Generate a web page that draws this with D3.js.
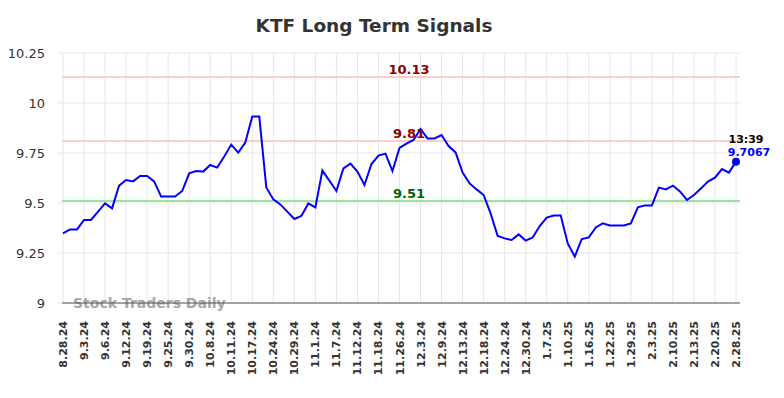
<!DOCTYPE html>
<html>
<head>
<meta charset="utf-8">
<script src="https://cdn.jsdelivr.net/npm/d3@7"></script>
<style>
  body { margin: 0; background: white; }
  svg { font-family: "DejaVu Sans", sans-serif; }
</style>
</head>
<body>
<div class="wrapper"></div>
<script>
const w = 784
const h = 398
const plotLeft = 62
const plotRight = 740
const plotTop = 53
const plotBottom = 303

const tickLabels = ["8.28.24", "9.3.24", "9.6.24", "9.12.24", "9.19.24", "9.25.24", "9.30.24", "10.8.24",
  "10.11.24", "10.17.24", "10.24.24", "10.29.24", "11.1.24", "11.7.24", "11.12.24", "11.18.24",
  "11.26.24", "12.3.24", "12.9.24", "12.13.24", "12.18.24", "12.24.24", "12.30.24", "1.7.25",
  "1.10.25", "1.16.25", "1.22.25", "1.29.25", "2.3.25", "2.10.25", "2.13.25", "2.20.25", "2.28.25"]
const tickStep = 3

const prices = [9.348, 9.368, 9.368, 9.415, 9.415, 9.457, 9.498, 9.473, 9.587, 9.615,
  9.608, 9.635, 9.635, 9.608, 9.532, 9.532, 9.532, 9.56, 9.648, 9.66,
  9.657, 9.69, 9.677, 9.732, 9.792, 9.752, 9.802, 9.932, 9.932, 9.578,
  9.518, 9.493, 9.457, 9.42, 9.435, 9.498, 9.478, 9.662, 9.612, 9.56,
  9.673, 9.697, 9.657, 9.59, 9.695, 9.737, 9.747, 9.66, 9.775, 9.797,
  9.815, 9.87, 9.823, 9.823, 9.84, 9.785, 9.753, 9.652, 9.598, 9.568,
  9.54, 9.448, 9.335, 9.323, 9.315, 9.343, 9.312, 9.328, 9.385, 9.427,
  9.437, 9.437, 9.298, 9.232, 9.32, 9.328, 9.378, 9.398, 9.388, 9.388,
  9.388, 9.398, 9.478, 9.488, 9.488, 9.577, 9.568, 9.587, 9.558, 9.515,
  9.54, 9.573, 9.607, 9.627, 9.67, 9.652, 9.7067]

const yTicks = [9, 9.25, 9.5, 9.75, 10, 10.25]
const resistance = [10.13, 9.81]
const support = [9.51]
const lastTime = "13:39"

const xScale = d3.scaleLinear().domain([0, prices.length - 1]).range([63, 736])
const yScale = d3.scaleLinear().domain([9, 10.25]).range([plotBottom, plotTop])

const svg = d3.select(".wrapper")
  .append("svg")
  .attr("width", w)
  .attr("height", h)

// grid
svg.append("g")
  .selectAll("line")
  .data(yTicks)
  .enter()
  .append("line")
  .attr("x1", 58)
  .attr("x2", plotRight)
  .attr("y1", (d) => yScale(d))
  .attr("y2", (d) => yScale(d))
  .attr("stroke", "#e6e6e6")
  .attr("stroke-width", 1)

svg.append("g")
  .selectAll("line")
  .data(tickLabels)
  .enter()
  .append("line")
  .attr("x1", (d, i) => xScale(i * tickStep))
  .attr("x2", (d, i) => xScale(i * tickStep))
  .attr("y1", plotTop)
  .attr("y2", plotBottom)
  .attr("stroke", "#e6e6e6")
  .attr("stroke-width", 1)

// y labels
svg.append("g")
  .selectAll("text")
  .data(yTicks)
  .enter()
  .append("text")
  .attr("x", 45)
  .attr("y", (d) => yScale(d))
  .attr("dy", "0.35em")
  .attr("text-anchor", "end")
  .attr("font-size", 13)
  .attr("fill", "#333")
  .text((d) => d3.format("")(d))

// x labels
svg.append("g")
  .selectAll("text")
  .data(tickLabels)
  .enter()
  .append("text")
  .attr("transform", (d, i) => "translate(" + (xScale(i * tickStep) + 4) + ", 321) rotate(-90)")
  .attr("text-anchor", "end")
  .attr("font-size", 11)
  .attr("font-weight", "bold")
  .attr("fill", "#333")
  .text((d) => d)

// watermark
svg.append("text")
  .attr("x", 73)
  .attr("y", 308)
  .attr("font-size", 14)
  .attr("font-weight", "bold")
  .attr("fill", "#999")
  .attr("opacity", 0.85)
  .text("Stock Traders Daily")

// axis line
svg.append("line")
  .attr("x1", plotLeft)
  .attr("x2", plotRight)
  .attr("y1", plotBottom)
  .attr("y2", plotBottom)
  .attr("stroke", "#555")
  .attr("stroke-width", 1.2)

// signal lines
svg.append("g")
  .selectAll("line")
  .data(resistance)
  .enter()
  .append("line")
  .attr("x1", plotLeft)
  .attr("x2", plotRight)
  .attr("y1", (d) => yScale(d))
  .attr("y2", (d) => yScale(d))
  .attr("stroke", "#ffcccc")
  .attr("stroke-width", 2)

svg.append("g")
  .selectAll("line")
  .data(support)
  .enter()
  .append("line")
  .attr("x1", plotLeft)
  .attr("x2", plotRight)
  .attr("y1", (d) => yScale(d))
  .attr("y2", (d) => yScale(d))
  .attr("stroke", "#99e699")
  .attr("stroke-width", 2)

// price line
svg.append("path")
  .datum(prices)
  .attr("d", d3.line().x((d, i) => xScale(i)).y((d) => yScale(d)))
  .attr("fill", "none")
  .attr("stroke", "blue")
  .attr("stroke-width", 2)

svg.selectAll(".sig-r")
  .data(resistance)
  .enter()
  .append("text")
  .attr("x", 409)
  .attr("y", (d) => yScale(d) - 3.5)
  .attr("text-anchor", "middle")
  .attr("font-size", 13)
  .attr("font-weight", "bold")
  .attr("fill", "#8b0000")
  .text((d) => d)

svg.selectAll(".sig-s")
  .data(support)
  .enter()
  .append("text")
  .attr("x", 409)
  .attr("y", (d) => yScale(d) - 3.5)
  .attr("text-anchor", "middle")
  .attr("font-size", 13)
  .attr("font-weight", "bold")
  .attr("fill", "#006400")
  .text((d) => d)

// last point
const lastIdx = prices.length - 1
svg.append("circle")
  .attr("cx", xScale(lastIdx))
  .attr("cy", yScale(prices[lastIdx]))
  .attr("r", 4)
  .attr("fill", "blue")

svg.append("text")
  .attr("x", xScale(lastIdx) + 10)
  .attr("y", yScale(prices[lastIdx]) - 19)
  .attr("text-anchor", "middle")
  .attr("font-size", 11)
  .attr("font-weight", "bold")
  .attr("fill", "black")
  .text(lastTime)

svg.append("text")
  .attr("x", xScale(lastIdx) + 13)
  .attr("y", yScale(prices[lastIdx]) - 6)
  .attr("text-anchor", "middle")
  .attr("font-size", 11)
  .attr("font-weight", "bold")
  .attr("fill", "blue")
  .text(prices[lastIdx])

// title
svg.append("text")
  .attr("x", 374)
  .attr("y", 32)
  .attr("text-anchor", "middle")
  .attr("font-size", 18.5)
  .attr("font-weight", "bold")
  .attr("fill", "#333")
  .text("KTF Long Term Signals")
</script>
</body>
</html>
